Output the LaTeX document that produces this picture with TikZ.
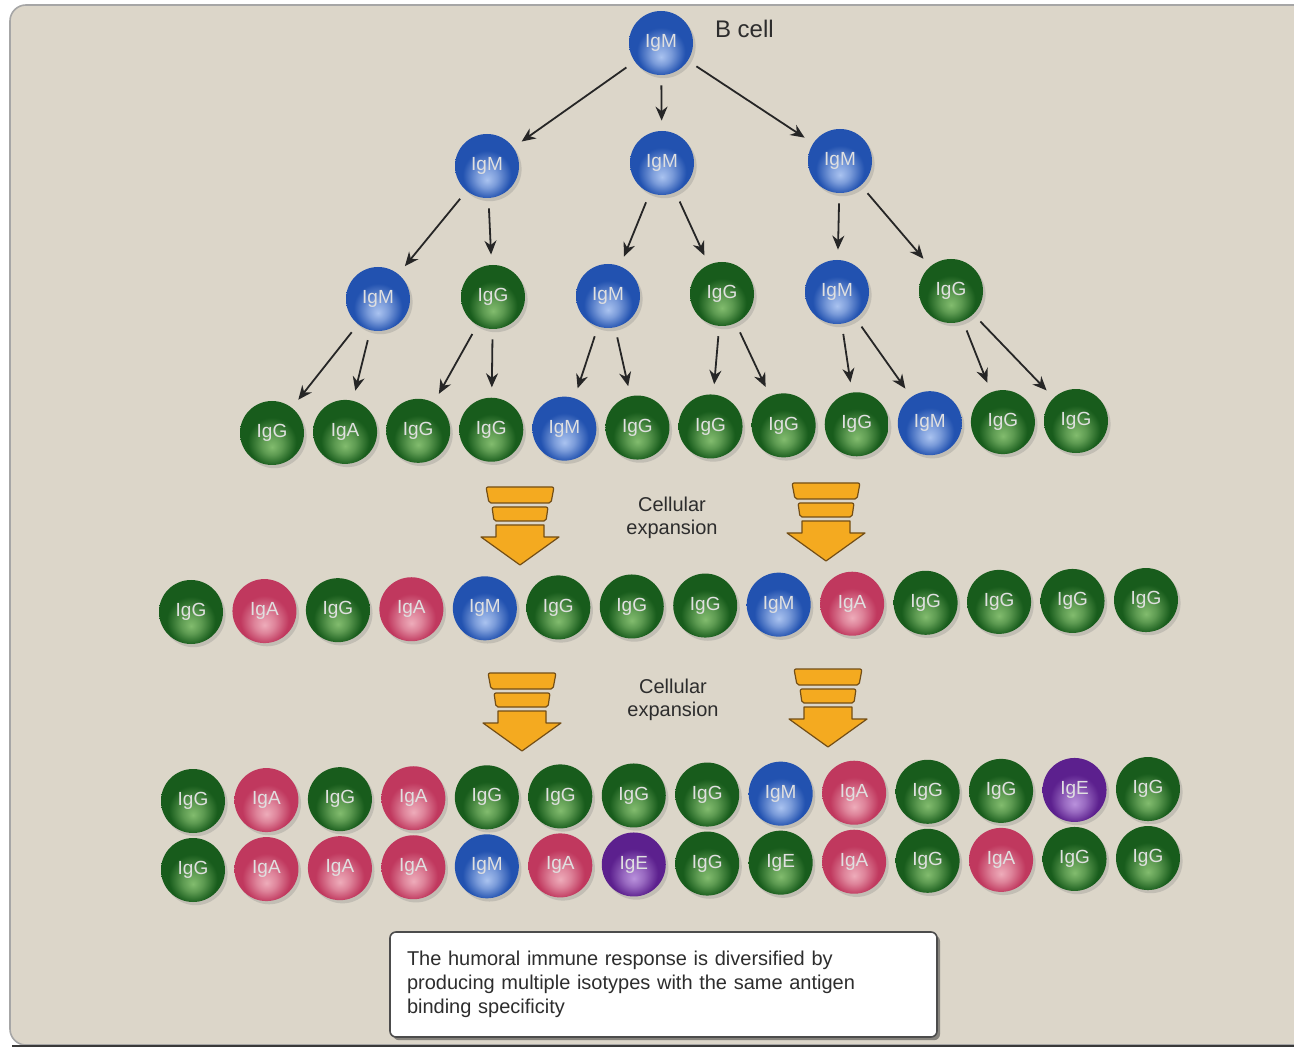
\documentclass[tikz,border=0pt]{standalone}
\usepackage{fontspec}
\setmainfont{Liberation Sans}
\usetikzlibrary{arrows.meta,shadows}

\definecolor{panelbg}{RGB}{220,214,201}
\definecolor{arrowfill}{RGB}{244,170,32}
\definecolor{arrowedge}{RGB}{115,78,22}
\definecolor{textgray}{RGB}{45,45,45}
\colorlet{celllo}{black}
\colorlet{cellhi}{white}

% cell ball: dark body, light glow near the bottom
\pgfdeclareradialshading[celllo,cellhi]{cellball}{\pgfpoint{0bp}{-11bp}}{%
  color(0bp)=(cellhi); color(8bp)=(cellhi!65!celllo); color(19bp)=(celllo); color(50bp)=(celllo)}

\tikzset{
  cell/.style={circle, minimum size=32pt, inner sep=0pt, shading=cellball,
    text=white!88!black, font=\fontsize{9.5}{10}\selectfont,
    drop shadow={shadow xshift=1.3pt, shadow yshift=-1.6pt, opacity=0.28}},
  gcell/.style={cell, /utils/exec={\definecolor{celllo}{RGB}{24,92,28}\definecolor{cellhi}{RGB}{130,188,110}}},
  bcell/.style={cell, /utils/exec={\definecolor{celllo}{RGB}{34,82,176}\definecolor{cellhi}{RGB}{170,195,240}}},
  rcell/.style={cell, /utils/exec={\definecolor{celllo}{RGB}{192,56,94}\definecolor{cellhi}{RGB}{238,172,186}}},
  pcell/.style={cell, /utils/exec={\definecolor{celllo}{RGB}{92,32,142}\definecolor{cellhi}{RGB}{185,145,220}}},
  arr/.style={-{Stealth[length=7pt,width=6pt]}, line width=0.9pt, black!85,
    shorten <=5pt, shorten >=5pt},
  blockarrow/.style={fill=arrowfill, draw=arrowedge, line width=0.6pt, line join=round},
  note/.style={draw=gray!60!black, fill=white, rounded corners=3pt, line width=0.8pt,
    minimum width=273.5pt, minimum height=52.5pt, text width=256.5pt, inner xsep=8.5pt,
    align=left, text=textgray, font=\fontsize{10}{12}\selectfont,
    drop shadow={shadow xshift=1.5pt, shadow yshift=-1.6pt, opacity=0.55, fill=black!75}},
  caption/.style={align=center, text=textgray, font=\fontsize{10}{11.5}\selectfont},
  expandarrow/.pic={
    \draw[blockarrow, rounded corners=1pt] (-34,0) -- (34,0) -- (31,16) -- (-31,16) -- cycle;
    \draw[blockarrow, rounded corners=1pt] (-28,20) -- (28,20) -- (26,34) -- (-26,34) -- cycle;
    \draw[blockarrow] (-24,38) -- (24,38) -- (24,50) -- (39,50) -- (0,78) -- (-39,50) -- (-24,50) -- cycle;
  }
}

\begin{document}
\begin{tikzpicture}[x=0.5pt, y=-0.5pt]
  \useasboundingbox (0,0) rectangle (1294,1052);
  \clip (0,0) rectangle (1294,1052);

  % page background
  \draw[gray!70, fill=panelbg, rounded corners=8pt, line width=0.8pt]
    (10,1045) -- (10,5) -- (1320,5) -- (1320,1045) -- cycle;
  \draw[gray!45!black, line width=1.2pt] (12,1046) -- (1294,1046);

  % founder cell and first divisions
  \node[bcell] (b0) at (661,43) {IgM};
  \node[anchor=west, text=textgray, font=\fontsize{12}{14}\selectfont] (blabel) at (708,29) {B cell};

  \node[bcell] (t1) at (487,166) {IgM};
  \node[bcell] (t2) at (662,163) {IgM};
  \node[bcell] (t3) at (840,161) {IgM};

  \node[bcell] (u1) at (378,299) {IgM};
  \node[gcell] (u2) at (493,297) {IgG};
  \node[bcell] (u3) at (608,296) {IgM};
  \node[gcell] (u4) at (722,294) {IgG};
  \node[bcell] (u5) at (837,292) {IgM};
  \node[gcell] (u6) at (951,291) {IgG};

  % fourth generation
  \foreach \ty/\lab [count=\k from 1] in {g/IgG, g/IgA, g/IgG, g/IgG, b/IgM, g/IgG,
      g/IgG, g/IgG, g/IgG, b/IgM, g/IgG, g/IgG}
    \node[\ty cell] (r3-\k) at ({272+(\k-1)*73.09}, {433-(\k-1)*1.09}) {\lab};

  \foreach \p/\c in {b0/t1, b0/t2, b0/t3, t1/u1, t1/u2, t2/u3, t2/u4, t3/u5, t3/u6,
      u1/r3-1, u1/r3-2, u2/r3-3, u2/r3-4, u3/r3-5, u3/r3-6,
      u4/r3-7, u4/r3-8, u5/r3-9, u5/r3-10, u6/r3-11, u6/r3-12}
    \draw[arr] (\p) -- (\c);

  % first expansion
  \pic at (520,487) {expandarrow};
  \pic at (826,483) {expandarrow};
  \node[caption] (exp1) at (672,518) {Cellular\\ expansion};

  \foreach \ty/\lab [count=\k from 1] in {g/IgG, r/IgA, g/IgG, r/IgA, b/IgM, g/IgG, g/IgG,
      g/IgG, b/IgM, r/IgA, g/IgG, g/IgG, g/IgG, g/IgG}
    \node[\ty cell] (r4-\k) at ({191+(\k-1)*73.46}, {612-(\k-1)*0.92}) {\lab};

  % second expansion
  \pic at (522,673) {expandarrow};
  \pic at (828,669) {expandarrow};
  \node[caption] (exp2) at (673,700) {Cellular\\ expansion};

  \foreach \ty/\lab [count=\k from 1] in {g/IgG, r/IgA, g/IgG, r/IgA, g/IgG, g/IgG, g/IgG,
      g/IgG, b/IgM, r/IgA, g/IgG, g/IgG, p/IgE, g/IgG}
    \node[\ty cell] (r5-\k) at ({193+(\k-1)*73.46}, {801-(\k-1)*0.92}) {\lab};

  \foreach \ty/\lab [count=\k from 1] in {g/IgG, r/IgA, r/IgA, r/IgA, b/IgM, r/IgA, p/IgE,
      g/IgG, g/IgE, r/IgA, g/IgG, r/IgA, g/IgG, g/IgG}
    \node[\ty cell] (r6-\k) at ({193+(\k-1)*73.46}, {870-(\k-1)*0.92}) {\lab};

  \node[note] (summary) at (663.5,984.5) {The humoral immune response is diversified by\\
    producing multiple isotypes with the same antigen\\ binding specificity};
\end{tikzpicture}
\end{document}
